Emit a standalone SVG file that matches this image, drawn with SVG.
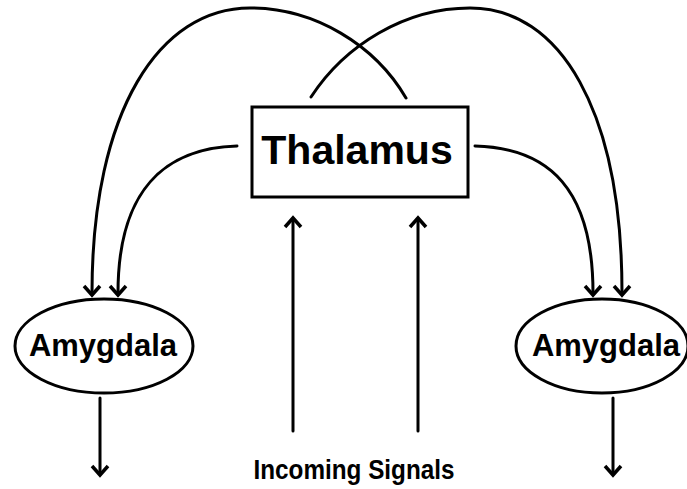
<svg xmlns="http://www.w3.org/2000/svg" width="687" height="489" viewBox="0 0 687 489">
<style>
.ln{fill:none;stroke:#000;stroke-width:3;stroke-linecap:round;stroke-linejoin:miter}
.hd{fill:none;stroke:#000;stroke-width:3.5;stroke-linecap:butt;stroke-linejoin:miter}
.shape{fill:#fff;stroke:#000;stroke-width:3}
.lbl{font-family:"Liberation Sans",Arial,sans-serif;font-weight:bold;fill:#000;text-anchor:middle}
</style>
<rect width="687" height="489" fill="#fff"/>
<g id="connectors">
<path class="ln" d="M406,98 C375,45 315,8 250,8 C160,8 92,110 92,293"/>
<path class="hd" d="M84,286 L92,295 L100,286"/>
<path class="ln" d="M311,97 C345,45 405,8 470,8 C560,8 622,110 622,293"/>
<path class="hd" d="M614,286 L622,295 L630,286"/>
<path class="ln" d="M237,146 C165,148 118,190 118,293"/>
<path class="hd" d="M110,286 L118,295 L126,286"/>
<path class="ln" d="M475,146 C550,148 593,190 593,293"/>
<path class="hd" d="M585,286 L593,295 L601,286"/>
<path class="ln" d="M100,398 L100,473"/>
<path class="hd" d="M92,466 L100,475 L108,466"/>
<path class="ln" d="M613,398 L613,473"/>
<path class="hd" d="M605,466 L613,475 L621,466"/>
<path class="ln" d="M293,431 L293,220"/>
<path class="hd" d="M285,227 L293,218 L301,227"/>
<path class="ln" d="M418,431 L418,220"/>
<path class="hd" d="M410,227 L418,218 L426,227"/>
</g>
<g id="thalamus">
<rect class="shape" x="252" y="107" width="216" height="90"/>
<text class="lbl" x="357" y="164" font-size="41">Thalamus</text>
</g>
<g id="amygdala-left">
<ellipse class="shape" cx="104" cy="346" rx="89" ry="47"/>
<text class="lbl" x="103" y="356" font-size="31">Amygdala</text>
</g>
<g id="amygdala-right">
<ellipse class="shape" cx="602" cy="346" rx="86" ry="47"/>
<text class="lbl" x="606" y="356" font-size="31">Amygdala</text>
</g>
<g id="incoming-signals">
<text class="lbl" x="354" y="479" font-size="28" textLength="201" lengthAdjust="spacingAndGlyphs">Incoming Signals</text>
</g>
</svg>
